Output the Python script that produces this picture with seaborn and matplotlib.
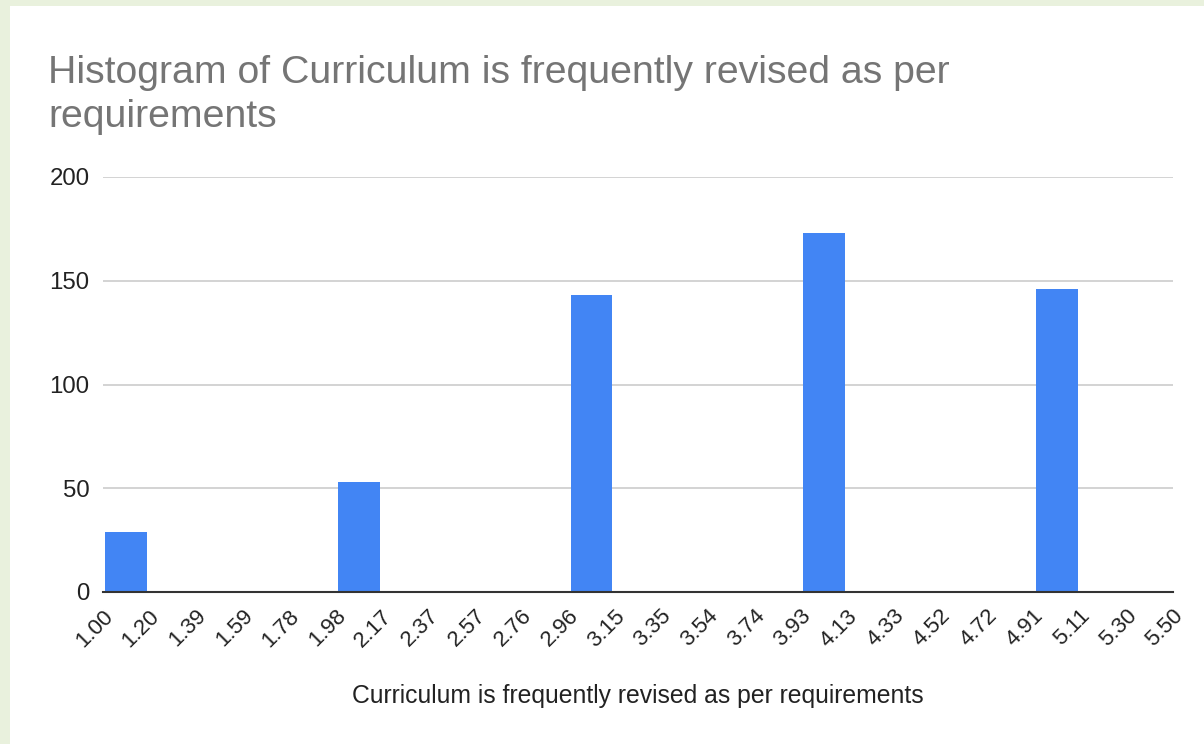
import numpy as np
import pandas as pd
import matplotlib
matplotlib.use("Agg")
import matplotlib.pyplot as plt
import matplotlib.transforms as mtransforms
from matplotlib.patches import Rectangle
import seaborn as sns

# ---- data ----
tick_labels = ["1.00", "1.20", "1.39", "1.59", "1.78", "1.98", "2.17", "2.37",
               "2.57", "2.76", "2.96", "3.15", "3.35", "3.54", "3.74", "3.93",
               "4.13", "4.33", "4.52", "4.72", "4.91", "5.11", "5.30", "5.50"]
bin_counts = [29, 0, 0, 0, 0, 53, 0, 0, 0, 0, 143, 0, 0, 0, 0, 173,
              0, 0, 0, 0, 146, 0, 0]
title = "Histogram of Curriculum is frequently revised as per\nrequirements"
x_title = "Curriculum is frequently revised as per requirements"
y_ticks = [0, 50, 100, 150, 200]

edges = np.linspace(1.0, 5.5, len(tick_labels))
centers = (edges[:-1] + edges[1:]) / 2
df = pd.DataFrame({"value": centers, "count": bin_counts})

sns.set_theme(style="white")
plt.rcParams["font.family"] = ["Liberation Sans", "DejaVu Sans"]

W, H = 1204, 744
fig = plt.figure(figsize=(W / 100, H / 100), dpi=100)
fig.patch.set_facecolor("#e9f1dd")
fig.patches.append(Rectangle((10 / W, 0), 1 - 10 / W, 1 - 6 / H,
                             transform=fig.transFigure, facecolor="white",
                             edgecolor="none", zorder=0))

ax = fig.add_axes([103 / W, 1 - 592 / H, (1173 - 103) / W, (592 - 177) / H])
ax.set_zorder(2)
ax.set_facecolor("none")

sns.barplot(data=df, x="value", y="count", native_scale=True, width=0.9,
            color="#4285f4", saturation=1, edgecolor="none", linewidth=0,
            errorbar=None, ax=ax)

ax.tick_params(axis="both", length=0)
ax.tick_params(axis="y", pad=9.8)
ax.tick_params(axis="x", pad=0)

ax.set_xlim(edges[0], edges[-1])
ax.set_ylim(0, 200)
ax.set_yticks(y_ticks)
ax.set_yticklabels([str(v) for v in y_ticks], fontsize=17.3, color="#222222")
ax.set_xticks(edges)
ax.set_xticklabels(tick_labels, rotation=45, ha="right", va="center",
                   rotation_mode="anchor", fontsize=16, color="#222222")
offset = mtransforms.ScaledTranslation(7 / 100, -21 / 100, fig.dpi_scale_trans)
for lab in ax.get_xticklabels():
    lab.set_transform(lab.get_transform() + offset)

ax.grid(axis="y", color="#cccccc", linewidth=1.2)
ax.set_axisbelow(True)
for s in ["top", "right", "left"]:
    ax.spines[s].set_visible(False)
ax.spines["bottom"].set_color("#333333")
ax.spines["bottom"].set_linewidth(1.5)
ax.spines["bottom"].set_zorder(5)

ax.set_ylabel("")
ax.set_xlabel(x_title, fontsize=17.8, color="#222222")
ax.xaxis.set_label_coords(0.5, -(684 - 592) / 415)
ax.xaxis.label.set_va("top")

fig.text(48 / W, 1 - 55 / H, title, fontsize=28.3, color="#757575",
         ha="left", va="top", linespacing=1.3, zorder=3)

fig.savefig("out.png", dpi=100, facecolor=fig.get_facecolor())
